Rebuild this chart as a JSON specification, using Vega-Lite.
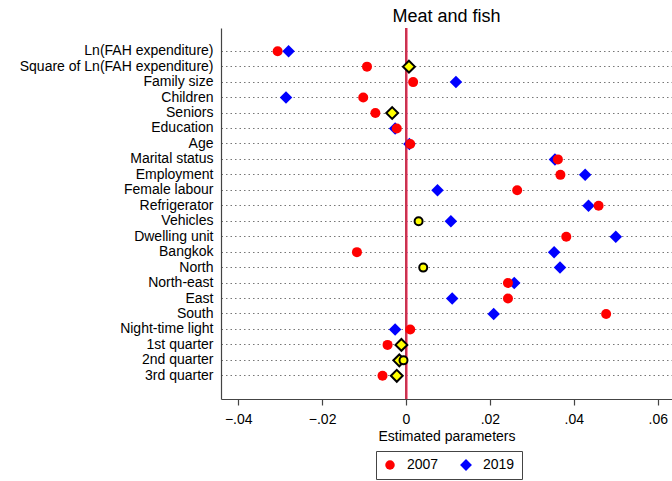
{
  "$schema": "https://vega.github.io/schema/vega-lite/v6.json",
  "width": 451,
  "height": 371,
  "autosize": "none",
  "padding": {"left": 221, "top": 28, "right": 0, "bottom": 82},
  "title": {
    "text": "Meat and fish",
    "font": "Liberation Sans",
    "fontSize": 18,
    "fontWeight": "normal",
    "color": "#000",
    "anchor": "middle",
    "frame": "group",
    "offset": 1
  },
  "config": {
    "view": {"stroke": null},
    "font": "Liberation Sans",
    "axis": {
      "labelFont": "Liberation Sans",
      "labelFontSize": 14,
      "labelColor": "#000",
      "titleFont": "Liberation Sans",
      "titleFontSize": 14,
      "titleFontWeight": "normal",
      "titleColor": "#000",
      "domainColor": "#444",
      "domainWidth": 1.2,
      "tickColor": "#444",
      "tickWidth": 1.2,
      "tickSize": 6
    },
    "axisX": {"labelPadding": 7, "titlePadding": 3, "grid": false},
    "legend": {"labelFont": "Liberation Sans", "labelFontSize": 14, "labelColor": "#000"}
  },
  "data": {
    "values": [
      {"variable": "Ln(FAH expenditure)", "year": "2007", "value": -0.0306, "sig": true},
      {"variable": "Ln(FAH expenditure)", "year": "2019", "value": -0.0280, "sig": true},
      {"variable": "Square of Ln(FAH expenditure)", "year": "2019", "value": 0.0007, "sig": false},
      {"variable": "Square of Ln(FAH expenditure)", "year": "2007", "value": -0.0093, "sig": true},
      {"variable": "Family size", "year": "2019", "value": 0.0119, "sig": true},
      {"variable": "Family size", "year": "2007", "value": 0.0017, "sig": true},
      {"variable": "Children", "year": "2019", "value": -0.0286, "sig": true},
      {"variable": "Children", "year": "2007", "value": -0.0102, "sig": true},
      {"variable": "Seniors", "year": "2019", "value": -0.0033, "sig": false},
      {"variable": "Seniors", "year": "2007", "value": -0.0073, "sig": true},
      {"variable": "Education", "year": "2019", "value": -0.0026, "sig": true},
      {"variable": "Education", "year": "2007", "value": -0.0022, "sig": true},
      {"variable": "Age", "year": "2019", "value": 0.0008, "sig": true},
      {"variable": "Age", "year": "2007", "value": 0.0010, "sig": true},
      {"variable": "Marital status", "year": "2019", "value": 0.0355, "sig": true},
      {"variable": "Marital status", "year": "2007", "value": 0.0362, "sig": true},
      {"variable": "Employment", "year": "2019", "value": 0.0427, "sig": true},
      {"variable": "Employment", "year": "2007", "value": 0.0368, "sig": true},
      {"variable": "Female labour", "year": "2019", "value": 0.0075, "sig": true},
      {"variable": "Female labour", "year": "2007", "value": 0.0265, "sig": true},
      {"variable": "Refrigerator", "year": "2019", "value": 0.0435, "sig": true},
      {"variable": "Refrigerator", "year": "2007", "value": 0.0459, "sig": true},
      {"variable": "Vehicles", "year": "2019", "value": 0.0107, "sig": true},
      {"variable": "Vehicles", "year": "2007", "value": 0.0030, "sig": false},
      {"variable": "Dwelling unit", "year": "2019", "value": 0.0500, "sig": true},
      {"variable": "Dwelling unit", "year": "2007", "value": 0.0382, "sig": true},
      {"variable": "Bangkok", "year": "2019", "value": 0.0353, "sig": true},
      {"variable": "Bangkok", "year": "2007", "value": -0.0117, "sig": true},
      {"variable": "North", "year": "2019", "value": 0.0367, "sig": true},
      {"variable": "North", "year": "2007", "value": 0.0041, "sig": false},
      {"variable": "North-east", "year": "2019", "value": 0.0258, "sig": true},
      {"variable": "North-east", "year": "2007", "value": 0.0243, "sig": true},
      {"variable": "East", "year": "2019", "value": 0.0110, "sig": true},
      {"variable": "East", "year": "2007", "value": 0.0243, "sig": true},
      {"variable": "South", "year": "2019", "value": 0.0209, "sig": true},
      {"variable": "South", "year": "2007", "value": 0.0477, "sig": true},
      {"variable": "Night-time light", "year": "2019", "value": -0.0026, "sig": true},
      {"variable": "Night-time light", "year": "2007", "value": 0.0010, "sig": true},
      {"variable": "1st quarter\u00a0", "year": "2019", "value": -0.0011, "sig": false},
      {"variable": "1st quarter\u00a0", "year": "2007", "value": -0.0044, "sig": true},
      {"variable": "2nd quarter", "year": "2019", "value": -0.0016, "sig": false},
      {"variable": "2nd quarter", "year": "2007", "value": -0.0006, "sig": false},
      {"variable": "3rd quarter", "year": "2019", "value": -0.0022, "sig": false},
      {"variable": "3rd quarter", "year": "2007", "value": -0.0056, "sig": true}
    ]
  },
  "layer": [
    {
      "mark": {"type": "rule", "color": "#c8344f", "strokeWidth": 2},
      "encoding": {
        "x": {
          "datum": 0,
          "type": "quantitative",
          "scale": {"domain": [-0.0441, 0.0634], "nice": false, "zero": false},
          "axis": {
            "title": "Estimated parameters",
            "values": [-0.04, -0.02, 0, 0.02, 0.04, 0.06],
            "labelExpr": "datum.value == 0 ? '0' : replace(format(datum.value, '.2f'), '0.', '.')"
          }
        }
      }
    },
    {
      "encoding": {
        "x": {
          "field": "value",
          "type": "quantitative",
          "scale": {"domain": [-0.0441, 0.0634], "nice": false, "zero": false},
          "axis": {
            "title": "Estimated parameters",
            "values": [-0.04, -0.02, 0, 0.02, 0.04, 0.06],
            "labelExpr": "datum.value == 0 ? '0' : replace(format(datum.value, '.2f'), '0.', '.')"
          }
        },
        "y": {
          "field": "variable",
          "type": "nominal",
          "sort": null,
          "scale": {
            "type": "band",
            "paddingInner": 0,
            "paddingOuter": 1,
            "domain": ["Ln(FAH expenditure)", "Square of Ln(FAH expenditure)", "Family size", "Children", "Seniors", "Education", "Age", "Marital status", "Employment", "Female labour", "Refrigerator", "Vehicles", "Dwelling unit", "Bangkok", "North", "North-east", "East", "South", "Night-time light", "1st quarter\u00a0", "2nd quarter", "3rd quarter"]
          },
          "axis": {
            "title": null,
            "ticks": false,
            "grid": true,
            "bandPosition": 0.5,
            "gridDash": [1.5, 3],
            "gridColor": "#777",
            "gridWidth": 1,
            "labelPadding": 8,
            "labelLimit": 300
          }
        }
      },
      "layer": [
        {
          "transform": [{"filter": "datum.sig"}],
          "mark": {"type": "point", "filled": true, "size": 100, "opacity": 1, "strokeWidth": 0},
          "encoding": {
            "color": {
              "field": "year",
              "type": "nominal",
              "scale": {"domain": ["2007", "2019"], "range": ["#ff0000", "#0000ff"]},
              "legend": {
                "orient": "none",
                "legendX": 155,
                "legendY": 423,
                "direction": "horizontal",
                "title": null,
                "strokeColor": "#444",
                "fillColor": "#fff",
                "padding": 7,
                "symbolSize": 90,
                "symbolStrokeWidth": 0,
                "labelOffset": 10,
                "columnPadding": 20
              }
            },
            "shape": {
              "field": "year",
              "type": "nominal",
              "scale": {"domain": ["2007", "2019"], "range": ["circle", "M0,-1.25L1.25,0L0,1.25L-1.25,0Z"]},
              "legend": {
                "orient": "none",
                "legendX": 155,
                "legendY": 423,
                "direction": "horizontal",
                "title": null,
                "strokeColor": "#444",
                "fillColor": "#fff",
                "padding": 7,
                "symbolSize": 90,
                "symbolStrokeWidth": 0,
                "labelOffset": 10,
                "columnPadding": 20
              }
            }
          }
        },
        {
          "transform": [{"filter": "!datum.sig"}],
          "mark": {"type": "point", "filled": true, "fill": "#ffff00", "stroke": "#000", "strokeWidth": 2, "opacity": 1},
          "encoding": {
            "shape": {"field": "year", "type": "nominal", "legend": null},
            "size": {"condition": {"test": "datum.year === '2019'", "value": 90}, "value": 64}
          }
        }
      ]
    }
  ]
}
